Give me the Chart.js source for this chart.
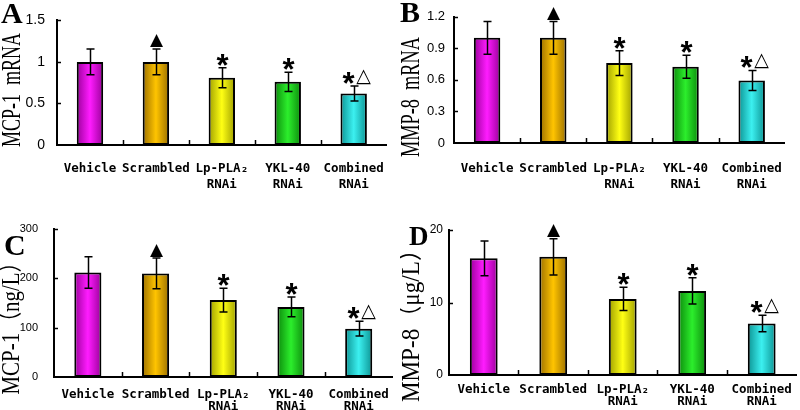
<!DOCTYPE html>
<html lang="en">
<head>
<meta charset="UTF-8">
<title>MCP-1 / MMP-8 after RNAi</title>
<script src="https://cdn.jsdelivr.net/npm/chart.js@4.4.0/dist/chart.umd.min.js"></script>
<style>
  html, body { margin: 0; padding: 0; background: #fff; }
  #wrap { position: relative; width: 800px; height: 410px; overflow: hidden; }
  .panel { position: absolute; width: 400px; height: 205px; }
</style>
</head>
<body>
<div id="wrap">
  <div class="panel" style="left:0;top:0"><canvas id="chartA" width="400" height="205"></canvas></div>
  <div class="panel" style="left:400px;top:0"><canvas id="chartB" width="400" height="205"></canvas></div>
  <div class="panel" style="left:0;top:205px"><canvas id="chartC" width="400" height="205"></canvas></div>
  <div class="panel" style="left:400px;top:205px"><canvas id="chartD" width="400" height="205"></canvas></div>
</div>
<script>
// groups on the x axis (multi-line labels)
const groups = [['Vehicle'], ['Scrambled'], ['Lp-PLA₂', 'RNAi'], ['YKL-40', 'RNAi'], ['Combined', 'RNAi']];
// significance marks above each bar
const marks = ['', '▲', '*', '*', '*△'];

// A: MCP-1 mRNA
const mcp1Mrna = [1.0, 1.0, 0.81, 0.76, 0.62];
const mcp1MrnaSd = [0.155, 0.155, 0.12, 0.115, 0.09];
const ticksA = [0, 0.5, 1, 1.5];

// B: MMP-8 mRNA
const mmp8Mrna = [1.0, 1.0, 0.76, 0.725, 0.595];
const mmp8MrnaSd = [0.155, 0.155, 0.117, 0.11, 0.095];
const ticksB = [0, 0.3, 0.6, 0.9, 1.2];

// C: MCP-1 (ng/L)
const mcp1Level = [212, 210, 156, 142, 98];
const mcp1LevelSd = [32, 31, 24, 20, 15];
const ticksC = [0, 100, 200, 300];

// D: MMP-8 (ug/L)
const mmp8Level = [16.1, 16.3, 10.5, 11.6, 7.1];
const mmp8LevelSd = [2.4, 2.5, 1.6, 1.8, 1.15];
const ticksD = [0, 10, 20];

// bar colours: [edge, centre]
const barColors = [
  ['#9c009c', '#ff1cff'],
  ['#9c7000', '#ffc400'],
  ['#a0a000', '#ffff14'],
  ['#0c8c0c', '#2cee2c'],
  ['#0c9494', '#3cf0f0']
];

// layout of each panel (pixels inside the 400x205 canvas)
const panels = {
  chartA: { values: mcp1Mrna, sd: mcp1MrnaSd, ticks: ticksA, letter: 'A', letterX: 1, letterY: 23, letterSize: 30,
            title: 'MCP-1  mRNA', titleX: 13, titleY: 90, titleLen: 114, titleSize: 28,
            axisX: 57, top: 12, bottom: 145, tickSize: 14, tickPad: 12, labelPad: 16, lineH: 1.25 },
  chartB: { values: mmp8Mrna, sd: mmp8MrnaSd, ticks: ticksB, letter: 'B', letterX: 0, letterY: 22, letterSize: 30,
            title: 'MMP-8  mRNA', titleX: 12, titleY: 97, titleLen: 120, titleSize: 28,
            axisX: 54, top: 15, bottom: 143, tickSize: 13, tickPad: 9, labelPad: 18, lineH: 1.25 },
  chartC: { values: mcp1Level, sd: mcp1LevelSd, ticks: ticksC, letter: 'C', letterX: 4, letterY: 50, letterSize: 30,
            title: 'MCP-1（ng/L）', titleX: 12, titleY: 118, titleLen: 143, titleSize: 25,
            axisX: 54, top: 24, bottom: 172, tickSize: 11, tickPad: 16, labelPad: 11, lineH: 1.0 },
  chartD: { values: mmp8Level, sd: mmp8LevelSd, ticks: ticksD, letter: 'D', letterX: 9, letterY: 40, letterSize: 27,
            title: 'MMP-8（μg/L）', titleX: 12, titleY: 115, titleLen: 164, titleSize: 25,
            axisX: 49, top: 25, bottom: 170, tickSize: 12, tickPad: 6, labelPad: 8, lineH: 1.0 }
};

const panelPlugin = {
  id: 'panel',
  beforeDatasetsDraw(chart) {
    const ctx = chart.ctx;
    chart.getDatasetMeta(0).data.forEach((bar, i) => {
      const half = bar.width / 2;
      const g = ctx.createLinearGradient(bar.x - half, 0, bar.x + half, 0);
      g.addColorStop(0, barColors[i][0]);
      g.addColorStop(0.5, barColors[i][1]);
      g.addColorStop(1, barColors[i][0]);
      bar.options.backgroundColor = g;
    });
  },
  afterDatasetsDraw(chart) {
    const p = panels[chart.canvas.id];
    const ctx = chart.ctx;
    const x = chart.scales.x, y = chart.scales.y;
    const area = chart.chartArea;
    ctx.save();
    ctx.strokeStyle = '#000';
    ctx.fillStyle = '#000';

    // inward tick marks
    ctx.lineWidth = 1.5;
    y.ticks.forEach(t => {
      if (t.value === 0) return;
      const py = Math.round(y.getPixelForValue(t.value)) + 0.5;
      ctx.beginPath(); ctx.moveTo(area.left, py); ctx.lineTo(area.left + 4, py); ctx.stroke();
    });
    for (let i = 0; i < groups.length - 1; i++) {
      const px = Math.round((x.getPixelForValue(i) + x.getPixelForValue(i + 1)) / 2) + 0.5;
      ctx.beginPath(); ctx.moveTo(px, area.bottom); ctx.lineTo(px, area.bottom - 5); ctx.stroke();
    }

    // error bars and marks
    chart.getDatasetMeta(0).data.forEach((bar, i) => {
      const v = p.values[i], e = p.sd[i];
      const cx = Math.round(bar.x) + 0.5;
      const top = y.getPixelForValue(v + e);
      const bot = y.getPixelForValue(v - e);
      ctx.lineWidth = 1.5;
      ctx.beginPath();
      ctx.moveTo(cx, top); ctx.lineTo(cx, bot);
      ctx.moveTo(cx - 4, top); ctx.lineTo(cx + 4, top);
      ctx.moveTo(cx - 4, bot); ctx.lineTo(cx + 4, bot);
      ctx.stroke();

      const m = marks[i];
      if (!m) return;
      const my = top - 10;
      if (m === '▲') {
        ctx.font = '17px "DejaVu Sans"';
        ctx.textAlign = 'center'; ctx.textBaseline = 'middle';
        ctx.fillText(m, cx, my + 2);
      } else if (m === '*') {
        ctx.font = 'bold 31px "Liberation Sans"';
        ctx.textAlign = 'center'; ctx.textBaseline = 'alphabetic';
        ctx.fillText('*', cx, my + 18);
      } else {
        ctx.font = 'bold 31px "Liberation Sans"';
        ctx.textAlign = 'center'; ctx.textBaseline = 'alphabetic';
        ctx.fillText('*', cx - 6, my + 18);
        ctx.font = '19px "DejaVu Sans"';
        ctx.textBaseline = 'middle';
        ctx.fillText('△', cx + 9, my + 1);
      }
    });
    ctx.restore();
  },
  afterDraw(chart) {
    const p = panels[chart.canvas.id];
    const ctx = chart.ctx;
    ctx.save();
    ctx.fillStyle = '#000';
    // panel letter
    ctx.font = `bold ${p.letterSize}px "Liberation Serif", serif`;
    ctx.textAlign = 'left'; ctx.textBaseline = 'alphabetic';
    ctx.fillText(p.letter, p.letterX, p.letterY);
    // y axis title, condensed along its length
    ctx.translate(p.titleX, p.titleY);
    ctx.rotate(-Math.PI / 2);
    ctx.font = `${p.titleSize}px "Liberation Serif", "Noto Sans CJK SC", serif`;
    const w = ctx.measureText(p.title).width;
    ctx.scale(p.titleLen / w, 1);
    ctx.textAlign = 'center'; ctx.textBaseline = 'middle';
    ctx.fillText(p.title, 0, 0);
    ctx.restore();
  }
};

function makeChart(id) {
  const p = panels[id];
  return new Chart(document.getElementById(id), {
    type: 'bar',
    data: {
      labels: groups,
      datasets: [{
        data: p.values,
        backgroundColor: barColors.map(c => c[1]),
        borderColor: '#000',
        borderWidth: 2,
        borderSkipped: false,
        barPercentage: 0.4,
        categoryPercentage: 1.0
      }]
    },
    options: {
      responsive: false,
      devicePixelRatio: 1,
      animation: false,
      events: [],
      layout: { padding: { top: p.top, right: 2, bottom: 0, left: 0 } },
      plugins: { legend: { display: false }, tooltip: { enabled: false } },
      scales: {
        x: {
          grid: { display: false, tickLength: 0 },
          border: { display: true, color: '#000', width: 2 },
          ticks: {
            color: '#000',
            autoSkip: false,
            maxRotation: 0,
            padding: p.labelPad,
            font: { family: '"DejaVu Sans Mono", monospace', size: 12.5, weight: 'bold', lineHeight: p.lineH }
          },
          afterFit: s => { s.height = 205 - p.bottom; }
        },
        y: {
          min: 0,
          max: p.ticks[p.ticks.length - 1],
          grid: { display: false, tickLength: 0 },
          border: { display: true, color: '#000', width: 2 },
          afterBuildTicks: s => { s.ticks = p.ticks.map(v => ({ value: v })); },
          ticks: {
            color: '#000',
            padding: p.tickPad,
            callback: v => String(v),
            font: { family: '"Liberation Sans Narrow", "Liberation Sans", sans-serif', size: p.tickSize }
          },
          afterFit: s => { s.width = p.axisX; }
        }
      }
    },
    plugins: [panelPlugin]
  });
}

['chartA', 'chartB', 'chartC', 'chartD'].forEach(makeChart);
</script>
</body>
</html>
